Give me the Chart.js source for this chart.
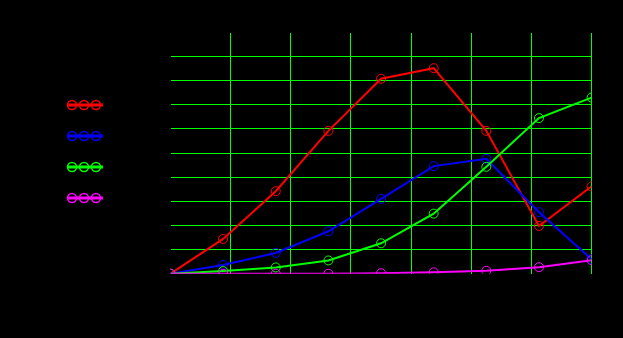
<!DOCTYPE html>
<html>
<head>
<meta charset="utf-8">
<script src="https://cdn.jsdelivr.net/npm/chart.js@4/dist/chart.umd.min.js"></script>
<style>
  html, body { margin: 0; padding: 0; background: #000; }
  #wrap { width: 623px; height: 338px; }
</style>
</head>
<body>
<div id="wrap"><canvas id="chart" width="623" height="338"></canvas></div>
<script>
// x positions of the samples, on an axis that runs 0..56 with a grid line every 8
const xValues = [0, 7, 14, 21, 28, 35, 42, 49, 56];

const seriesNames = ["Series 1", "Series 2", "Series 3", "Series 4"];
const seriesColors = ["#ff0000", "#0000ff", "#00ff00", "#ff00ff"];

const redValues = [0, 1.44, 3.42, 5.92, 8.08, 8.52, 5.92, 1.98, 3.62];
const blueValues = [0, 0.36, 0.86, 1.76, 3.1, 4.46, 4.76, 2.55, 0.6];
const greenValues = [0, 0.11, 0.26, 0.55, 1.26, 2.49, 4.43, 6.45, 7.3];
const magentaValues = [0, 0, 0, 0, 0.02, 0.06, 0.12, 0.27, 0.56];

const allValues = [redValues, blueValues, greenValues, magentaValues];

const gridGreen = "#00ff00";

const toPoints = (vals) => vals.map((v, i) => ({ x: xValues[i], y: v }));

const datasets = allValues.map((vals, i) => ({
  label: seriesNames[i],
  data: toPoints(vals),
  borderColor: seriesColors[i],
  backgroundColor: "transparent",
  borderWidth: 2,
  pointStyle: "circle",
  pointRadius: 4.5,
  pointBorderWidth: 1,
  pointBackgroundColor: "transparent",
  pointBorderColor: seriesColors[i],
  tension: 0,
  order: 4 - i,
}));

// legend on the left: short line with three circles, labels in black
const sideLegend = {
  id: "sideLegend",
  afterDraw(chart) {
    const ctx = chart.ctx;
    ctx.save();
    seriesColors.forEach((color, i) => {
      const y = 105 + i * 31;
      ctx.strokeStyle = color;
      ctx.lineWidth = 3;
      ctx.beginPath();
      ctx.moveTo(67, y);
      ctx.lineTo(103, y);
      ctx.stroke();
      ctx.lineWidth = 1.5;
      [72, 84, 96].forEach((cx) => {
        ctx.beginPath();
        ctx.arc(cx, y, 4.5, 0, Math.PI * 2);
        ctx.stroke();
      });
      ctx.fillStyle = "#000";
      ctx.font = "12px 'DejaVu Sans'";
      ctx.textBaseline = "middle";
      ctx.fillText(seriesNames[i], 110, y);
    });
    ctx.restore();
  },
};

// keep only whole-step grid lines, and none on the left/bottom edge
const innerTicks = (scale) => {
  scale.ticks = scale.ticks.filter((t) => Number.isInteger(t.value) && t.value !== 0);
};

new Chart(document.getElementById("chart"), {
  type: "line",
  data: { datasets },
  options: {
    responsive: false,
    animation: false,
    layout: {
      padding: { left: 170.5, top: 33, right: 31.4, bottom: 64.3 },
    },
    scales: {
      x: {
        type: "linear",
        min: 0,
        max: 56,
        afterBuildTicks: innerTicks,
        ticks: { display: false, stepSize: 8 },
        border: { display: false },
        grid: { drawTicks: false, lineWidth: 1, color: gridGreen },
      },
      y: {
        min: 0,
        max: 9.977,
        afterBuildTicks: innerTicks,
        ticks: { display: false, stepSize: 1 },
        border: { display: false },
        grid: { drawTicks: false, lineWidth: 1, color: gridGreen },
      },
    },
    plugins: {
      legend: { display: false },
      tooltip: { enabled: false },
    },
  },
  plugins: [sideLegend],
});
</script>
</body>
</html>
